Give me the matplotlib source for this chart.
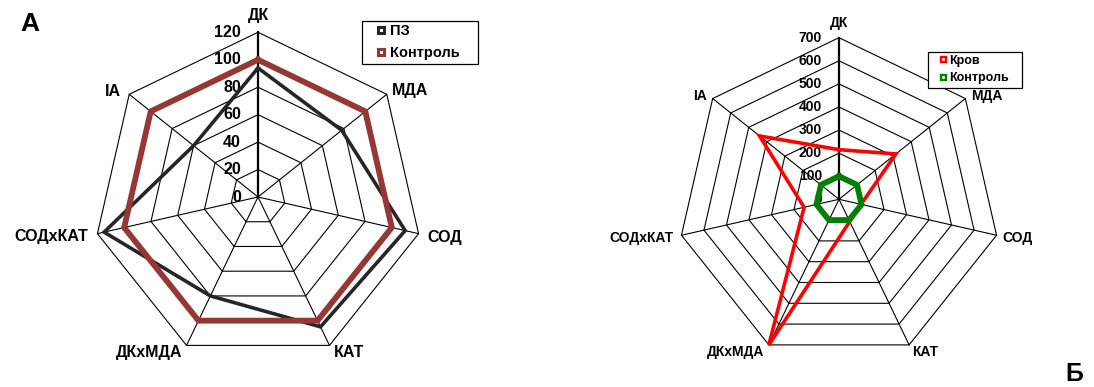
import matplotlib
matplotlib.use('Agg')
import matplotlib.pyplot as plt
import numpy as np

plt.rcParams['font.family'] = ['Liberation Sans', 'DejaVu Sans']
plt.rcParams['font.weight'] = 'bold'

# data
categories = ['ДК', 'МДА', 'СОД', 'КАТ', 'ДКxМДА', 'СОДxКАТ', 'IA']

# panel A
pz = [94, 78, 110, 105, 80, 115, 60]
control_a = [100, 100, 100, 100, 100, 100, 100]
ticks_a = [0, 20, 40, 60, 80, 100, 120]

# panel Б
krov = [215, 315, 98, 107, 700, 155, 440]
control_b = [100, 100, 100, 100, 100, 100, 100]
ticks_b = [0, 100, 200, 300, 400, 500, 600, 700]

PX = 0.72  # pixels -> points at dpi 100


def radar(ax, series, ticks, fs, offsets):
    n = len(categories)
    ang = np.arange(n) * 2 * np.pi / n
    closed = np.append(ang, ang[0])
    rmax = ticks[-1]
    ax.set_theta_zero_location('N')
    ax.set_theta_direction(-1)
    ax.set_ylim(0, rmax)
    ax.axis('off')

    # polygon grid
    for t in ticks[1:]:
        ax.plot(closed, [t] * (n + 1), color='black', lw=0.8, clip_on=False, zorder=1)
    for i, a in enumerate(ang):
        ax.plot([a, a], [0, rmax], color='black', lw=1.6 if i == 0 else 0.8,
                clip_on=False, zorder=1)

    for t in ticks:
        ax.annotate(str(t), xy=(0, t), xytext=(-17 * PX, 0), textcoords='offset points',
                    ha='right', va='center', fontsize=fs, fontweight='bold')

    for vals, color, lw, name in series:
        ax.plot(closed, list(vals) + [vals[0]], color=color, lw=lw, label=name,
                clip_on=False, zorder=3, solid_joinstyle='miter')

    for cat, a, (dx, dy, ha) in zip(categories, ang, offsets):
        ax.annotate(cat, xy=(a, rmax), xytext=(dx * PX, dy * PX), textcoords='offset points',
                    ha=ha, va='center', fontsize=fs, fontweight='bold')


def legend_for(ax, series, box, fs, ms, mew, hl, htp, ls):
    handles = []
    for vals, color, lw, name in series:
        h, = plt.plot([], [], ls='none', marker='s', ms=ms, mfc='white', mec=color, mew=mew)
        handles.append(h)
    x0, y0, x1, y1 = box
    leg = ax.legend(handles, [s[3] for s in series], loc='upper left',
                    bbox_to_anchor=(x0 / 1094, 1 - y1 / 387, (x1 - x0) / 1094, (y1 - y0) / 387),
                    bbox_transform=fig.transFigure, mode='expand', ncol=1,
                    fancybox=False, framealpha=1, edgecolor='black',
                    prop={'size': fs, 'weight': 'bold'}, borderpad=0.25,
                    handlelength=hl, handletextpad=htp, labelspacing=ls,
                    borderaxespad=0)
    leg.get_frame().set_linewidth(0.9)


fig = plt.figure(figsize=(10.94, 3.87), dpi=100)

# left radar, centre (258,197), radius 164.7 px
cx, cy, r = 258, 197, 164.7
ax1 = fig.add_axes([(cx - r) / 1094, 1 - (cy + r) / 387, 2 * r / 1094, 2 * r / 387],
                   projection='polar')
series_a = [(pz, '#262626', 2.6, 'ПЗ'), (control_a, '#953735', 4.2, 'Контроль')]
offs_a = [(0, 17, 'center'), (5, 4, 'left'), (9, -4, 'left'), (4, -7, 'left'),
          (-4, -7, 'right'), (-9, -3, 'right'), (-8, 3, 'right')]
radar(ax1, series_a, ticks_a, 11.5, offs_a)
legend_for(ax1, series_a, (361.7, 20.7, 478.3, 63.3), 10.5, 4.6, 2.2, 2.2, -0.5, 0.55)

# right radar, centre (839,199), radius 161.6 px
cx, cy, r = 839, 199.3, 161.6
ax2 = fig.add_axes([(cx - r) / 1094, 1 - (cy + r) / 387, 2 * r / 1094, 2 * r / 387],
                   projection='polar')
series_b = [(krov, '#ff0000', 2.6, 'Кров'), (control_b, '#008000', 4.2, 'Контроль')]
offs_b = [(0, 15, 'center'), (6, 3, 'left'), (6, -3, 'left'), (3, -7, 'left'),
          (-5, -7, 'right'), (-8, -3, 'right'), (-6, 3, 'right')]
radar(ax2, series_b, ticks_b, 10, offs_b)
legend_for(ax2, series_b, (928.3, 51.7, 1021.7, 87.3), 9, 3.6, 1.7, 1.85, -0.42, 0.45)

fig.text(30 / 1094, 1 - 24 / 387, 'А', fontsize=19, fontweight='bold', ha='center', va='center')
fig.text(1074 / 1094, 1 - 374 / 387, 'Б', fontsize=18, fontweight='bold', ha='center', va='center')

fig.savefig('out.png', dpi=100)
